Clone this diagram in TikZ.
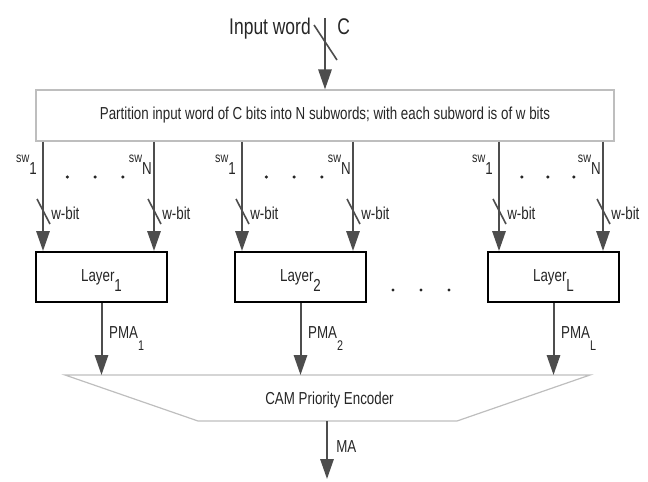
\documentclass[tikz,border=0pt]{standalone}
\usepackage{fontspec}
\setmainfont{Liberation Sans}[FakeStretch=0.77]
\usetikzlibrary{arrows.meta}
\definecolor{linegray}{HTML}{4D4D4D}
\definecolor{framegray}{HTML}{BEBEBE}
\definecolor{textgray}{HTML}{262626}
\newcommand{\lowsub}[1]{\smash{\raisebox{-0.6em}{#1}}}
\newcommand{\pmasub}[1]{\smash{\raisebox{-9pt}{\fontsize{10.5}{12}\selectfont #1}}}
\newcommand{\swlab}[1]{{\fontsize{10.5}{12}\selectfont sw}\smash{\raisebox{-9.5pt}{#1}}}
\begin{document}
\begin{tikzpicture}[
    x=0.75pt, y=-0.75pt,
    font=\fontsize{13}{15}\selectfont, text=textgray,
    box/.style={draw=black, line width=1.5pt, inner sep=0pt,
                minimum width=98.25pt, minimum height=37.5pt},
    wide/.style={draw=framegray, line width=0.9pt, inner sep=0pt,
                 minimum width=433.5pt, minimum height=38.25pt},
    arr/.style={-{Triangle[length=15pt, width=10pt]}, draw=linegray,
                line width=1.5pt},
    bus/.style={draw=linegray, line width=1.2pt},
    lbl/.style={inner sep=0pt},
    dot/.style={circle, fill=textgray, inner sep=0pt, minimum size=2.6pt},
  ]
    \useasboundingbox (0,0) rectangle (648,481);

    % Input word -------------------------------------------------------------
    \coordinate (in) at (325,18);
    \node[lbl, anchor=base east, font=\fontsize{17}{19}\selectfont] (inword) at (311,35) {Input word};
    \node[lbl, anchor=base west, font=\fontsize{17}{19}\selectfont] (cbits)  at (337,35) {C};
    \node[wide] (part) at (325,115.5)
      {Partition input word of C bits into N subwords; with each subword is of w bits};
    \draw[arr] (in) -- (part);
    \draw[bus] (314,25) -- (337,60);

    % Layers -----------------------------------------------------------------
    \node[box] (layer1) at (101.5,277) {Layer\lowsub{1}};
    \node[box] (layer2) at (300.5,277) {Layer\lowsub{2}};
    \node[box] (layerL) at (553.5,277) {Layer\lowsub{L}};

    \node[dot] (gap1) at (393,290) {};
    \node[dot] (gap2) at (421,290) {};
    \node[dot] (gap3) at (449,290) {};

    % Subword buses ----------------------------------------------------------
    \foreach \n/\xa/\xb in {1/43/154, 2/242/353, L/499/603} {
      \draw[arr] (\xa,0 |- part.south) -- (\xa,0 |- layer\n.north);
      \draw[arr] (\xb,0 |- part.south) -- (\xb,0 |- layer\n.north);
      \node[lbl, anchor=base east] (swa\n) at (\xa-6,162) {\swlab{1}};
      \node[lbl, anchor=base east] (swb\n) at (\xb-2,162) {\swlab{N}};
      \foreach \f [count=\k] in {0.22,0.47,0.72}
        \node[dot] (dot\n\k) at ({\xa+\f*(\xb-\xa)},177) {};
      \draw[bus] (\xa-6,199) -- (\xa+7,224);
      \draw[bus] (\xb-6,199) -- (\xb+7,224);
      \node[lbl, anchor=west] (wa\n) at (\xa+8,213) {w-bit};
      \node[lbl, anchor=west] (wb\n) at (\xb+8,213) {w-bit};
    }

    % Priority encoder -------------------------------------------------------
    \coordinate (camtop) at (327.5,375);
    \coordinate (cambot) at (327,421);
    \coordinate (out)    at (327,479);
    \draw[draw=framegray, line width=0.9pt]
      (65,375) -- (590,375) -- (457,421) -- (198,421) -- cycle;
    \node[lbl] (cam) at (329.5,400) {CAM Priority Encoder};

    \foreach \n in {1,2,L} {
      \draw[arr] (layer\n.south) -- (layer\n.south |- camtop);
      \node[lbl, anchor=base west] (pma\n) at ([xshift=5.5pt]layer\n.south |- 0,338) {PMA\pmasub{\n}};
    }
    \draw[arr] (cambot) -- (out);
    \node[lbl, anchor=base west] (ma) at (336,452) {MA};
  \end{tikzpicture}
\end{document}
